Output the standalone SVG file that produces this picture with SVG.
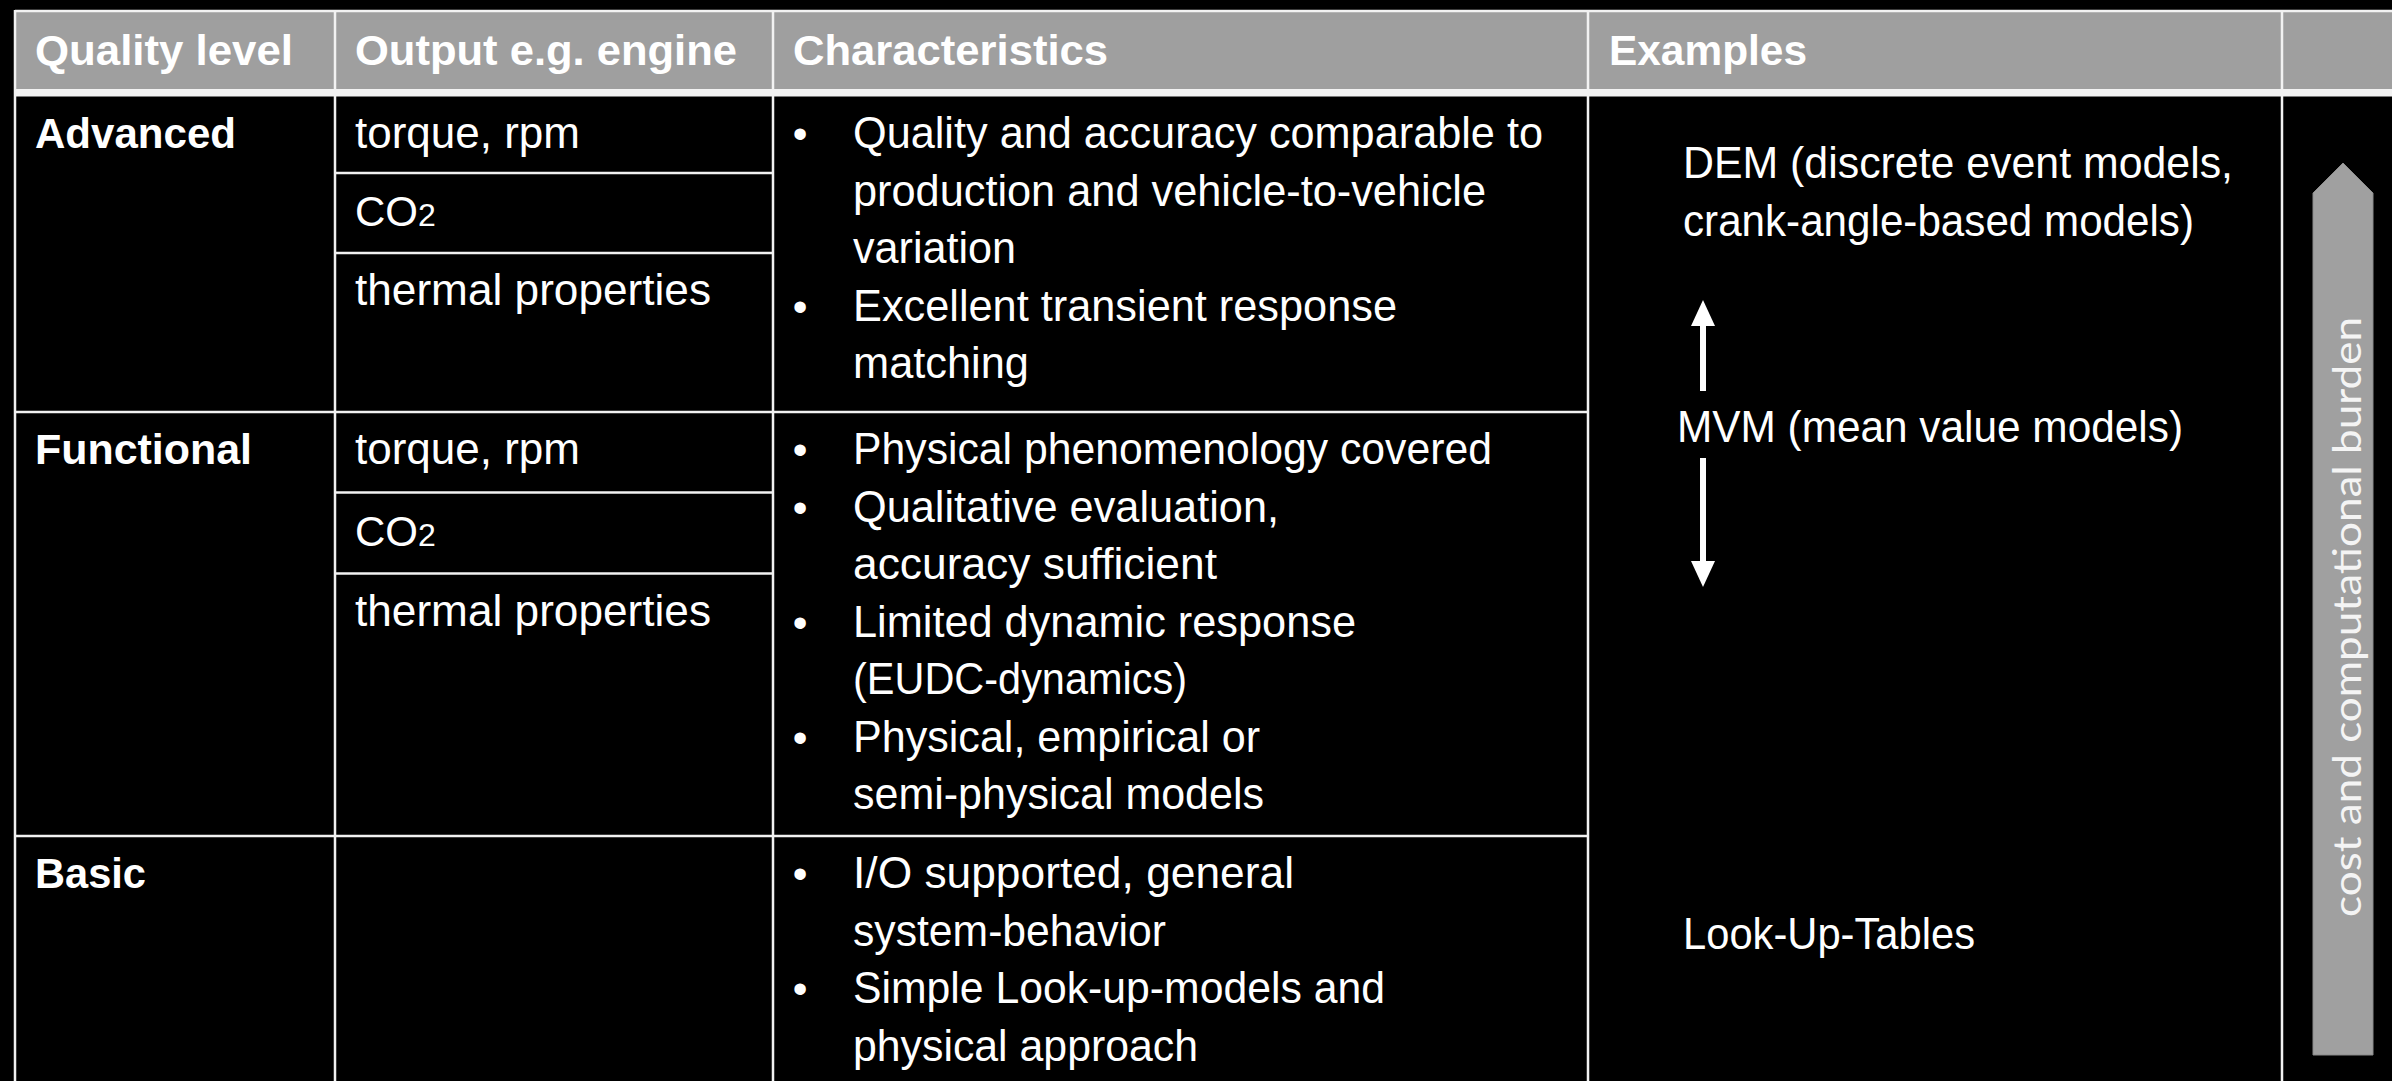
<svg xmlns="http://www.w3.org/2000/svg" width="2392" height="1081" viewBox="0 0 2392 1081">
  <style>
    .bg { fill: #000000; }
    .head-fill { fill: #9f9f9f; }
    .rule { stroke: #f2f2f2; stroke-width: 2.5; fill: none; }
    .th { font-family: "Liberation Sans", Arial, sans-serif; font-weight: bold; font-size: 42px; fill: #ffffff; }
    .lvl { font-family: "Liberation Sans", Arial, sans-serif; font-weight: bold; font-size: 42px; fill: #ffffff; }
    .td { font-family: "Liberation Sans", Arial, sans-serif; font-size: 44px; fill: #ffffff; }
    .chem { font-family: "Liberation Sans", Arial, sans-serif; font-size: 42px; fill: #ffffff; }
    .bul { font-family: "Liberation Sans", Arial, sans-serif; font-size: 42px; fill: #ffffff; text-anchor: middle; }
    .side { font-family: Lato, "Noto Sans", sans-serif; font-size: 39px; fill: #f4f4f4; }
    .shaft { stroke: #ffffff; stroke-width: 6; fill: none; }
  </style>
  <defs>
    <marker id="arrowhead" markerUnits="userSpaceOnUse" viewBox="0 0 26 24" markerWidth="26" markerHeight="24" refX="1" refY="12" orient="auto">
      <path d="M0,0 L26,12 L0,24 Z" fill="#ffffff"/>
    </marker>
  </defs>

  <rect class="bg" x="0" y="0" width="2392" height="1081"/>

  <!-- header band -->
  <g id="header">
    <rect class="head-fill" x="15" y="11" width="2377" height="78"/>
    <text class="th" x="35" y="65" textLength="258" lengthAdjust="spacingAndGlyphs">Quality level</text>
    <text class="th" x="355" y="65" textLength="382" lengthAdjust="spacingAndGlyphs">Output e.g. engine</text>
    <text class="th" x="793" y="65" textLength="315" lengthAdjust="spacingAndGlyphs">Characteristics</text>
    <text class="th" x="1609" y="65" textLength="198" lengthAdjust="spacingAndGlyphs">Examples</text>
  </g>

  <!-- table rules -->
  <g id="grid">
    <line class="rule" x1="15" y1="11" x2="2392" y2="11"/>
    <line class="rule" x1="15" y1="10" x2="15" y2="1081"/>
    <rect x="15" y="89" width="2377" height="7.5" fill="#f2f2f2"/>
    <line class="rule" x1="335" y1="11" x2="335" y2="1081"/>
    <line class="rule" x1="773" y1="11" x2="773" y2="1081"/>
    <line class="rule" x1="1588" y1="11" x2="1588" y2="1081"/>
    <line class="rule" x1="2282" y1="11" x2="2282" y2="1081"/>
    <line class="rule" x1="15" y1="412" x2="1588" y2="412"/>
    <line class="rule" x1="15" y1="836" x2="1588" y2="836"/>
    <line class="rule" x1="335" y1="173" x2="773" y2="173"/>
    <line class="rule" x1="335" y1="253" x2="773" y2="253"/>
    <line class="rule" x1="335" y1="492.5" x2="773" y2="492.5"/>
    <line class="rule" x1="335" y1="573.5" x2="773" y2="573.5"/>
  </g>

  <!-- quality level: Advanced -->
  <g id="row-advanced">
    <text class="lvl" x="35" y="148" textLength="201" lengthAdjust="spacingAndGlyphs">Advanced</text>
    <text class="td" x="355" y="148" textLength="225" lengthAdjust="spacingAndGlyphs">torque, rpm</text>
    <text class="chem" x="355" y="226">CO<tspan font-size="32">2</tspan></text>
    <text class="td" x="355" y="305" textLength="356" lengthAdjust="spacingAndGlyphs">thermal properties</text>
    <text class="bul" x="800" y="148">•</text>
    <text class="td" x="853" y="148" textLength="690" lengthAdjust="spacingAndGlyphs">Quality and accuracy comparable to</text>
    <text class="td" x="853" y="205.6" textLength="633" lengthAdjust="spacingAndGlyphs">production and vehicle-to-vehicle</text>
    <text class="td" x="853" y="263.2" textLength="163" lengthAdjust="spacingAndGlyphs">variation</text>
    <text class="bul" x="800" y="320.8">•</text>
    <text class="td" x="853" y="320.8" textLength="544" lengthAdjust="spacingAndGlyphs">Excellent transient response</text>
    <text class="td" x="853" y="378.4" textLength="176" lengthAdjust="spacingAndGlyphs">matching</text>
  </g>

  <!-- quality level: Functional -->
  <g id="row-functional">
    <text class="lvl" x="35" y="464" textLength="217" lengthAdjust="spacingAndGlyphs">Functional</text>
    <text class="td" x="355" y="464" textLength="225" lengthAdjust="spacingAndGlyphs">torque, rpm</text>
    <text class="chem" x="355" y="546">CO<tspan font-size="32">2</tspan></text>
    <text class="td" x="355" y="626" textLength="356" lengthAdjust="spacingAndGlyphs">thermal properties</text>
    <text class="bul" x="800" y="464">•</text>
    <text class="td" x="853" y="464" textLength="639" lengthAdjust="spacingAndGlyphs">Physical phenomenology covered</text>
    <text class="bul" x="800" y="521.5">•</text>
    <text class="td" x="853" y="521.5" textLength="426" lengthAdjust="spacingAndGlyphs">Qualitative evaluation,</text>
    <text class="td" x="853" y="579" textLength="364" lengthAdjust="spacingAndGlyphs">accuracy sufficient</text>
    <text class="bul" x="800" y="636.5">•</text>
    <text class="td" x="853" y="636.5" textLength="503" lengthAdjust="spacingAndGlyphs">Limited dynamic response</text>
    <text class="td" x="853" y="694" textLength="334" lengthAdjust="spacingAndGlyphs">(EUDC-dynamics)</text>
    <text class="bul" x="800" y="751.5">•</text>
    <text class="td" x="853" y="751.5" textLength="407" lengthAdjust="spacingAndGlyphs">Physical, empirical or</text>
    <text class="td" x="853" y="809" textLength="411" lengthAdjust="spacingAndGlyphs">semi-physical models</text>
  </g>

  <!-- quality level: Basic -->
  <g id="row-basic">
    <text class="lvl" x="35" y="888" textLength="111" lengthAdjust="spacingAndGlyphs">Basic</text>
    <text class="bul" x="800" y="888">•</text>
    <text class="td" x="853" y="888" textLength="441" lengthAdjust="spacingAndGlyphs">I/O supported, general</text>
    <text class="td" x="853" y="945.5" textLength="313" lengthAdjust="spacingAndGlyphs">system-behavior</text>
    <text class="bul" x="800" y="1003">•</text>
    <text class="td" x="853" y="1003" textLength="532" lengthAdjust="spacingAndGlyphs">Simple Look-up-models and</text>
    <text class="td" x="853" y="1060.5" textLength="345" lengthAdjust="spacingAndGlyphs">physical approach</text>
  </g>

  <!-- model examples -->
  <g id="examples">
    <text class="td" x="1683" y="178" textLength="550" lengthAdjust="spacingAndGlyphs">DEM (discrete event models,</text>
    <text class="td" x="1683" y="235.5" textLength="511" lengthAdjust="spacingAndGlyphs">crank-angle-based models)</text>
    <text class="td" x="1677" y="442" textLength="506" lengthAdjust="spacingAndGlyphs">MVM (mean value models)</text>
    <text class="td" x="1683" y="949" textLength="292" lengthAdjust="spacingAndGlyphs">Look-Up-Tables</text>
  </g>

  <!-- arrows between the example levels -->
  <g id="connectors">
    <line class="shaft" x1="1703" y1="391" x2="1703" y2="325" marker-end="url(#arrowhead)"/>
    <line class="shaft" x1="1703" y1="458" x2="1703" y2="562" marker-end="url(#arrowhead)"/>
  </g>

  <!-- cost arrow on the right -->
  <g id="cost-arrow">
    <polygon points="2313,1055 2313,193 2343,163 2373,193 2373,1055" fill="#a0a0a0" stroke="#8a8a8a" stroke-width="1"/>
    <text class="side" transform="translate(2361,917) rotate(-90)" textLength="600" lengthAdjust="spacingAndGlyphs">cost and computational burden</text>
  </g>
</svg>
